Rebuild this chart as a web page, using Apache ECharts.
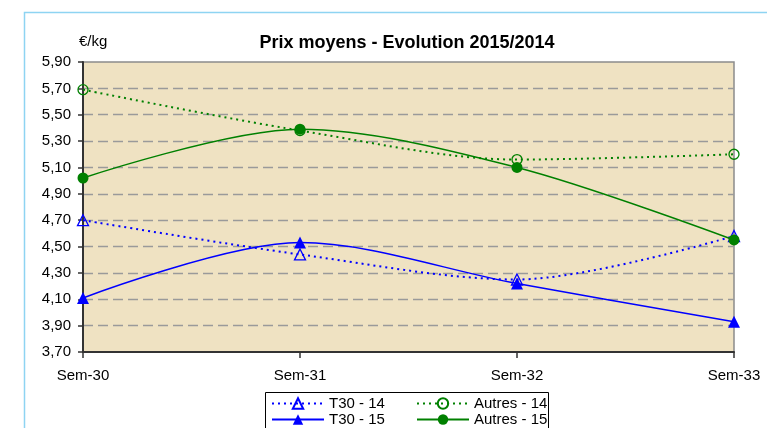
<!DOCTYPE html>
<html>
<head>
<meta charset="utf-8">
<script src="https://cdn.jsdelivr.net/npm/echarts@6/dist/echarts.min.js"></script>
<style>
html,body{margin:0;padding:0;background:#fff;}
#c{width:767px;height:428px;}
</style>
</head>
<body>
<div id="c"></div>
<script>
var categories = ['Sem-30', 'Sem-31', 'Sem-32', 'Sem-33'];
var t30_14 = [4.70, 4.44, 4.25, 4.58];
var t30_15 = [4.11, 4.53, 4.22, 3.93];
var autres_14 = [5.69, 5.38, 5.16, 5.20];
var autres_15 = [5.02, 5.39, 5.10, 4.55];
var yMin = 3.70, yMax = 5.90, yStep = 0.20;

var font = 'Liberation Sans, Arial, sans-serif';
var chart = echarts.init(document.getElementById('c'), null, {renderer: 'canvas'});

function mkSeries(name, data, color, dotted, symbol, filled, size) {
  return {
    name: name,
    type: 'line',
    data: data,
    smooth: 0.32,
    symbol: symbol,
    symbolSize: size,
    showAllSymbol: true,
    lineStyle: {color: color, width: dotted ? 2 : 1.5, type: dotted ? [2, 4] : 'solid'},
    itemStyle: {color: filled ? color : 'rgba(0,0,0,0)', borderColor: color, borderWidth: filled ? 0 : 1.3},
    emphasis: {disabled: true},
    z: filled ? 3 : 2
  };
}

var legendText = {fontFamily: font, fontSize: 15, color: '#000'};

chart.setOption({
  animation: false,
  title: {
    text: 'Prix moyens - Evolution 2015/2014',
    left: 402, top: 29, textAlign: 'center',
    textStyle: {fontFamily: font, fontSize: 18, fontWeight: 'bold', color: '#000'}
  },
  graphic: [
    {type: 'rect', left: 22, top: 10, shape: {x: 0, y: 0, width: 800, height: 500},
     style: {fill: 'none', stroke: '#8ed4f2', lineWidth: 1.5}, z: -10},
    {type: 'text', left: 79, top: 34, style: {text: '€/kg', font: '15px ' + font, fill: '#000'}},
    {type: 'rect', left: 265, top: 392, shape: {x: 0, y: 0, width: 283, height: 40},
     style: {fill: '#fff', stroke: '#000', lineWidth: 1}, z: -1}
  ],
  legend: [
    {
      data: ['T30 - 14', 'T30 - 15'], orient: 'vertical', left: 271, top: 396,
      itemWidth: 52, itemHeight: 13, itemGap: 1, textStyle: legendText, selectedMode: false, padding: 0
    },
    {
      data: ['Autres - 14', 'Autres - 15'], orient: 'vertical', left: 416, top: 396,
      itemWidth: 52, itemHeight: 13, itemGap: 1, textStyle: legendText, selectedMode: false, padding: 0
    }
  ],
  grid: {
    left: 83, top: 62, right: 33, bottom: 76,
    show: true, backgroundColor: '#efe2c2', borderColor: '#8c8c8c', borderWidth: 1.5
  },
  xAxis: {
    type: 'category', data: categories, boundaryGap: false,
    axisLine: {lineStyle: {color: '#333', width: 2}},
    axisTick: {show: true, length: 6, lineStyle: {color: '#333', width: 1.5}},
    axisLabel: {fontFamily: font, fontSize: 15, color: '#000', margin: 16,
      interval: 0, showMinLabel: true, showMaxLabel: true},
    splitLine: {show: false}
  },
  yAxis: {
    type: 'value', min: yMin, max: yMax, interval: yStep,
    axisLine: {show: true, lineStyle: {color: '#333', width: 2}},
    axisTick: {show: true, inside: false, length: 5, lineStyle: {color: '#333', width: 1.5}},
    axisLabel: {fontFamily: font, fontSize: 15, color: '#000', margin: 12,
      formatter: function (v) { return v.toFixed(2).replace('.', ','); }},
    splitLine: {show: true, showMaxLine: false, showMinLine: false,
      lineStyle: {color: '#9a9a9a', type: [10, 5], width: 1.3}}
  },
  series: [
    mkSeries('T30 - 14', t30_14, '#0000ff', true, 'triangle', false, 11),
    mkSeries('T30 - 15', t30_15, '#0000ff', false, 'triangle', true, 12),
    mkSeries('Autres - 14', autres_14, '#008000', true, 'circle', false, 10),
    mkSeries('Autres - 15', autres_15, '#008000', false, 'circle', true, 11)
  ]
});
</script>
</body>
</html>
